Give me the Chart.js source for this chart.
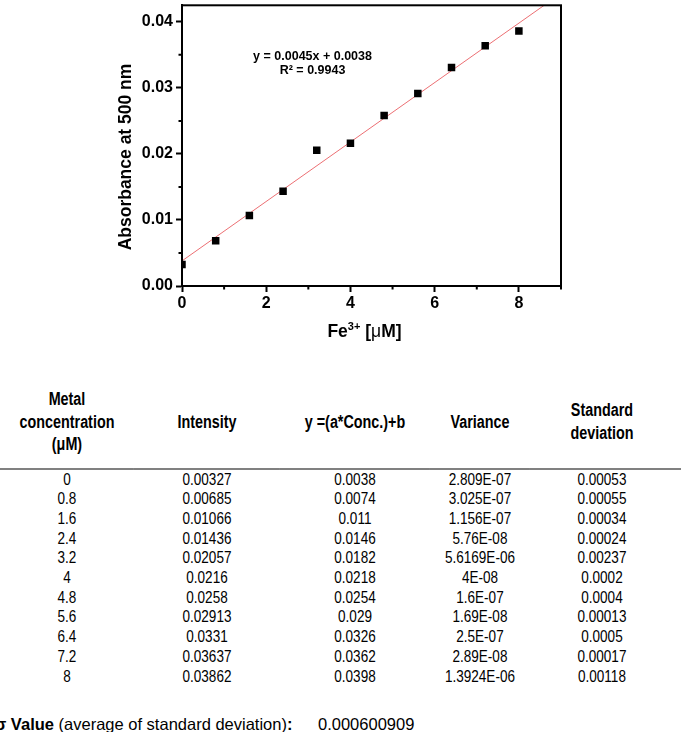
<!DOCTYPE html>
<html>
<head>
<meta charset="utf-8">
<title>Fe3+ calibration</title>
<script src="https://cdn.jsdelivr.net/npm/chart.js@4.4.1/dist/chart.umd.min.js"></script>
<style>
    body {
        margin: 0;
        width: 681px;
        height: 732px;
        overflow: hidden;
        background: #fff;
        position: relative;
        font-family: "Liberation Sans", Arial, sans-serif;
        color: #000;
    }
    #chart-box {
        position: absolute;
        left: 0;
        top: 0;
        width: 681px;
        height: 350px;
    }
    /* narrow look: table laid out wider, then squeezed */
    #data-table {
        position: absolute;
        left: 0;
        top: 388px;
        width: 830.5px;
        transform: scaleX(0.82);
        transform-origin: 0 0;
        border-collapse: collapse;
        table-layout: fixed;
        font-family: "Liberation Sans", Arial, sans-serif;
        font-size: 16.5px;
    }
    #data-table th {
        font-weight: bold;
        font-size: 17.5px;
        line-height: 22.5px;
        padding: 0 0 12px 0;
        vertical-align: middle;
        text-align: center;
        border-bottom: 2px solid #808080;
    }
    #data-table td {
        text-align: center;
        line-height: 19.7px;
        height: 19.7px;
        padding: 0;
    }
    #sigma-line {
        position: absolute;
        left: -5px;
        top: 715px;
        font-size: 16.5px;
        white-space: nowrap;
        line-height: 18px;
    }
    #sigma-value {
        position: absolute;
        left: 318px;
        top: 715px;
        font-size: 16.5px;
        line-height: 18px;
    }
</style>
</head>
<body>
<div id="chart-box"><canvas id="calib-chart"></canvas></div>

<table id="data-table">
    <colgroup>
        <col style="width:163.4px"><col style="width:178.1px"><col style="width:182.9px">
        <col style="width:121.9px"><col style="width:175.7px"><col style="width:8.5px">
    </colgroup>
    <thead>
        <tr>
            <th>Metal<br>concentration<br>(μM)</th>
            <th>Intensity</th>
            <th>y =(a*Conc.)+b</th>
            <th>Variance</th>
            <th>Standard<br>deviation</th>
            <th></th>
        </tr>
    </thead>
    <tbody id="table-body"></tbody>
</table>

<div id="sigma-line"><b>σ Value</b> (average of standard deviation)<b>:</b></div>
<div id="sigma-value"></div>

<script>
// ============================================
// DATA
// ============================================

const concentration = [0, 0.8, 1.6, 2.4, 3.2, 4, 4.8, 5.6, 6.4, 7.2, 8];
const intensity = [0.00327, 0.00685, 0.01066, 0.01436, 0.02057, 0.0216, 0.0258, 0.02913, 0.0331, 0.03637, 0.03862];
const fitted = [0.0038, 0.0074, 0.011, 0.0146, 0.0182, 0.0218, 0.0254, 0.029, 0.0326, 0.0362, 0.0398];
const variance = ['2.809E-07', '3.025E-07', '1.156E-07', '5.76E-08', '5.6169E-06', '4E-08', '1.6E-07', '1.69E-08', '2.5E-07', '2.89E-08', '1.3924E-06'];
const stdDev = ['0.00053', '0.00055', '0.00034', '0.00024', '0.00237', '0.0002', '0.0004', '0.00013', '0.0005', '0.00017', '0.00118'];
const sigmaValue = '0.000600909';

// linear fit y = 0.0045x + 0.0038, end points
const fitX = [0, 9];
const fitY = [0.0038, 0.0443];

// tick marks (all) and the ones that carry a label
const xTickValues = [0, 1, 2, 3, 4, 5, 6, 7, 8, 9];
const xTickLabels = [0, 2, 4, 6, 8];
const yTickValues = [0, 0.005, 0.01, 0.015, 0.02, 0.025, 0.03, 0.035, 0.04];
const yTickLabels = [0, 0.01, 0.02, 0.03, 0.04];

const equationLines = ['y = 0.0045x + 0.0038', 'R² = 0.9943'];

// ============================================
// TABLE
// ============================================

document.getElementById('table-body').innerHTML = concentration.map((c, i) => `
    <tr>
        <td>${c}</td>
        <td>${intensity[i]}</td>
        <td>${fitted[i]}</td>
        <td>${variance[i]}</td>
        <td>${stdDev[i]}</td>
        <td></td>
    </tr>`).join('');
document.getElementById('sigma-value').textContent = sigmaValue;

// ============================================
// CHART
// ============================================

const FONT = '"Liberation Sans", Arial, sans-serif';
const hasLabel = (list, v) => list.some(l => Math.abs(l - v) < 1e-9);

// frame, minor ticks, axis titles and equation
const decorPlugin = {
    id: 'decor',
    afterDraw(chart) {
        const { ctx, chartArea: a, scales: { x, y } } = chart;
        ctx.save();

        // minor ticks
        ctx.strokeStyle = '#000';
        ctx.lineWidth = 2;
        ctx.beginPath();
        y.ticks.forEach(t => {
            if (hasLabel(yTickLabels, t.value)) return;
            const py = y.getPixelForValue(t.value);
            ctx.moveTo(a.left - 3.5, py);
            ctx.lineTo(a.left, py);
        });
        x.ticks.forEach(t => {
            if (hasLabel(xTickLabels, t.value)) return;
            const px = x.getPixelForValue(t.value);
            ctx.moveTo(px, a.bottom);
            ctx.lineTo(px, a.bottom + 3.5);
        });
        ctx.stroke();

        // frame
        ctx.strokeRect(a.left, a.top, a.right - a.left, a.bottom - a.top);

        // y title
        ctx.fillStyle = '#000';
        ctx.font = `bold 17.5px ${FONT}`;
        ctx.textAlign = 'center';
        ctx.textBaseline = 'middle';
        ctx.save();
        ctx.translate(126, 157);
        ctx.rotate(-Math.PI / 2);
        ctx.fillText('Absorbance at 500 nm', 0, 0);
        ctx.restore();

        // x title with superscript
        const parts = [
            { t: 'Fe', f: `bold 17.5px ${FONT}`, dy: 0 },
            { t: '3+', f: `bold 11px ${FONT}`, dy: -7 },
            { t: ' [', f: `bold 17.5px ${FONT}`, dy: 0 },
            { t: 'μ', f: `17.5px ${FONT}`, dy: 0 },
            { t: 'M]', f: `bold 17.5px ${FONT}`, dy: 0 }
        ];
        ctx.textAlign = 'left';
        ctx.textBaseline = 'alphabetic';
        let total = 0;
        parts.forEach(p => { ctx.font = p.f; p.w = ctx.measureText(p.t).width; total += p.w; });
        let cx = (a.left + a.right) / 2 - 7 - total / 2;
        parts.forEach(p => {
            ctx.font = p.f;
            ctx.fillText(p.t, cx, 337 + p.dy);
            cx += p.w;
        });

        // equation
        ctx.font = `bold 12.5px ${FONT}`;
        ctx.textAlign = 'center';
        ctx.textBaseline = 'middle';
        const ex = x.getPixelForValue(3.1);
        const ey = y.getPixelForValue(0.0348);
        ctx.fillText(equationLines[0], ex, ey);
        ctx.fillText(equationLines[1], ex, ey + 14);

        ctx.restore();
    }
};

new Chart(document.getElementById('calib-chart'), {
    type: 'scatter',
    data: {
        datasets: [
            {
                label: 'Absorbance',
                data: concentration.map((c, i) => ({ x: c, y: intensity[i] })),
                pointStyle: 'rect',
                pointRadius: 5.3,
                backgroundColor: '#000',
                borderColor: '#000',
                borderWidth: 0,
                order: 0
            },
            {
                label: 'Linear fit',
                data: fitX.map((v, i) => ({ x: v, y: fitY[i] })),
                showLine: true,
                pointRadius: 0,
                borderColor: '#ec6f73',
                borderWidth: 1,
                order: 1
            }
        ]
    },
    options: {
        responsive: true,
        maintainAspectRatio: false,
        animation: false,
        layout: { padding: { left: 0, right: 120, top: 4, bottom: 0 } },
        plugins: {
            legend: { display: false },
            tooltip: { enabled: false }
        },
        scales: {
            x: {
                type: 'linear',
                min: 0,
                max: 9,
                afterBuildTicks: s => { s.ticks = xTickValues.map(value => ({ value })); },
                afterFit: s => { s.height = 64; s.paddingLeft = 0; s.paddingRight = 0; },
                border: { color: '#000', width: 2 },
                grid: {
                    drawOnChartArea: false,
                    tickLength: 6,
                    tickWidth: 2,
                    tickColor: c => (c.tick && hasLabel(xTickLabels, c.tick.value)) ? '#000' : 'rgba(0,0,0,0)'
                },
                ticks: {
                    autoSkip: false,
                    maxRotation: 0,
                    padding: 2,
                    color: '#000',
                    font: { family: FONT, size: 16, weight: 'bold' },
                    callback: v => hasLabel(xTickLabels, v) ? String(v) : ''
                }
            },
            y: {
                type: 'linear',
                min: 0,
                max: 0.0425,
                afterBuildTicks: s => { s.ticks = yTickValues.map(value => ({ value })); },
                afterFit: s => { s.width = 182; s.paddingTop = 0; s.paddingBottom = 0; },
                border: { color: '#000', width: 2 },
                grid: {
                    drawOnChartArea: false,
                    tickLength: 6,
                    tickWidth: 2,
                    tickColor: c => (c.tick && hasLabel(yTickLabels, c.tick.value)) ? '#000' : 'rgba(0,0,0,0)'
                },
                ticks: {
                    autoSkip: false,
                    padding: 3,
                    color: '#000',
                    font: { family: FONT, size: 16, weight: 'bold' },
                    callback: v => hasLabel(yTickLabels, v) ? v.toFixed(2) : ''
                }
            }
        }
    },
    plugins: [decorPlugin]
});
</script>
</body>
</html>
